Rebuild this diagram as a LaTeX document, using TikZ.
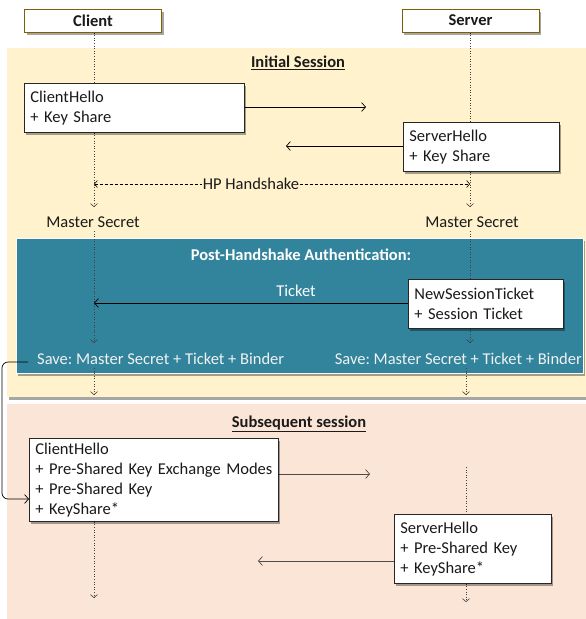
\documentclass[tikz,border=0pt]{standalone}
\usepackage{fontspec}
\setmainfont{Carlito}
\usetikzlibrary{arrows.meta,shadows}
\definecolor{sessionyellow}{HTML}{FFF2CC}
\definecolor{sessionpeach}{HTML}{FBE5D6}
\definecolor{authteal}{HTML}{31849B}
\definecolor{actorgold}{HTML}{7F6000}
\definecolor{inktext}{HTML}{1A1A1A}
\pgfdeclarelayer{sessions}
\pgfdeclarelayer{lines}
\pgfsetlayers{sessions,lines,main}
\frenchspacing
\begin{document}
\begin{tikzpicture}[x=1pt,y=-1pt,
  txt/.style={font=\fontsize{16.5}{20}\selectfont, text=inktext, inner sep=0pt},
  boldtxt/.style={font=\fontsize{16.5}{20}\selectfont\bfseries, text=inktext, inner sep=0pt},
  softshadow/.style={drop shadow={shadow xshift=2pt, shadow yshift=-2.5pt, fill=black, opacity=0.35}},
  actor/.style={boldtxt, draw=actorgold, line width=1pt, fill=white,
    minimum width=137pt, minimum height=23pt, softshadow},
  msg/.style={txt, draw=black!85, line width=0.8pt, fill=white, anchor=north west,
    align=left, inner xsep=6pt, inner ysep=0pt, softshadow},
  life/.style={dotted, line width=0.6pt, draw=black!75},
  lifetip/.style={life, -{Straight Barb[length=3pt,width=7pt]}},
  send/.style={line width=0.7pt, -{Straight Barb[length=4pt,width=9pt]}},
]
\useasboundingbox (0,0) rectangle (586,619);

% session backgrounds
\begin{pgfonlayer}{sessions}
\fill[sessionyellow, softshadow] (7,48) rectangle (586,397);
\fill[sessionpeach] (7,404) rectangle (586,619);
\draw[white, line width=0.8pt, fill=authteal, softshadow] (16,238) rectangle (583,373);
\end{pgfonlayer}

% actors
\node[actor] (client) at (93,20.5) {Client};
\node[actor] (server) at (470.5,20.5) {Server};

% section titles
\node[boldtxt] (tinit) at (298,63) {\underline{Initial Session}};
\node[boldtxt, text=white] (tauth) at (301,255) {Post-Handshake Authentication:};
\node[boldtxt] (tsub) at (299,424) {\underline{Subsequent session}};

% message boxes
\node[msg, text width=208pt, minimum height=49pt] (ch1) at (24,83) {ClientHello\\+ Key Share};
\node[msg, text width=144pt, minimum height=49pt] (sh1) at (403,122) {ServerHello\\+ Key Share};
\node[msg, text width=143pt, minimum height=49pt] (nst) at (408,279) {NewSessionTicket\\+ Session Ticket};
\node[msg, text width=237pt, minimum height=83pt] (ch2) at (29,438) {ClientHello\\+ Pre-Shared Key Exchange Modes\\+ Pre-Shared Key\\+ KeyShare*};
\node[msg, text width=145pt, minimum height=69pt] (sh2) at (394,514) {ServerHello\\+ Pre-Shared Key\\+ KeyShare*};

% state labels
\node[txt] (ms1) at (93,222) {Master Secret};
\node[txt] (ms2) at (472,222) {Master Secret};
\node[txt, text=white!95!black, anchor=west] (sv1) at (37,359) {Save: Master Secret + Ticket + Binder};
\node[txt, text=white!95!black, anchor=east] (sv2) at (582,359) {Save: Master Secret + Ticket + Binder};
\node[txt, text=white] (tk) at (296,291) {Ticket};
\node[txt, fill=sessionyellow, inner xsep=1pt] (hp) at (251,184) {HP Handshake};

% lifeline positions and levels
\coordinate (cx) at (94,0);
\coordinate (sx) at (470,0);
\coordinate (sxl) at (466,0);
\coordinate (yA) at (0,207);
\coordinate (yB) at (0,231);
\coordinate (yC) at (0,343);
\coordinate (yD) at (0,368);
\coordinate (yE) at (0,395);
\coordinate (yF) at (0,598);
\coordinate (yG) at (0,467);
\coordinate (yH) at (0,602);
\coordinate (yHP) at (0,184);
\coordinate (yT) at (0,303);

\begin{pgfonlayer}{lines}
% client lifeline
\draw[life] (cx |- client.south) -- (cx |- ch1.north);
\draw[lifetip] (cx |- ch1.south) -- (cx |- yA);
\draw[lifetip] (cx |- yB) -- (cx |- yC);
\draw[lifetip] (cx |- yD) -- (cx |- yE);
\draw[lifetip] (cx |- ch2.south) -- (cx |- yF);
% server lifeline
\draw[life] (sx |- server.south) -- (sx |- sh1.north);
\draw[lifetip] (sx |- sh1.south) -- (sx |- yA);
\draw[life] (sx |- yB) -- (sx |- nst.north);
\draw[lifetip] (sx |- nst.south) -- (sx |- yC);
\draw[lifetip] (sxl |- yD) -- (sxl |- yE);
\draw[life] (sxl |- yG) -- (sxl |- sh2.north);
\draw[lifetip] (sxl |- sh2.south) -- (sxl |- yH);

% handshake span
\draw[line width=0.6pt, dash pattern=on 3pt off 2pt,
  {Straight Barb[length=3pt,width=7pt]}-{Straight Barb[length=3pt,width=7pt]}]
  (cx |- yHP) -- (sx |- yHP);

% messages
\coordinate (m1) at (366,107);
\coordinate (m2) at (286,146);
\coordinate (m4) at (370,474);
\coordinate (m5) at (258,561);
\draw[send] (ch1.east |- m1) -- (m1);
\draw[send] (sh1.west |- m2) -- (m2);
\draw[send] (nst.west |- yT) -- (cx |- yT);
\draw[send, draw=black!70] (ch2.east |- m4) -- (m4);
\draw[send, draw=black!70] (sh2.west |- m5) -- (m5);

% saved ticket carried into the next session
\coordinate (lstart) at (28,362);
\coordinate (lt) at (2,362);
\coordinate (lb) at (2,499);
\draw[send, rounded corners=6pt] (lstart) -- (lt) -- (lb) -- (ch2.west |- lb);
\end{pgfonlayer}
\end{tikzpicture}
\end{document}
